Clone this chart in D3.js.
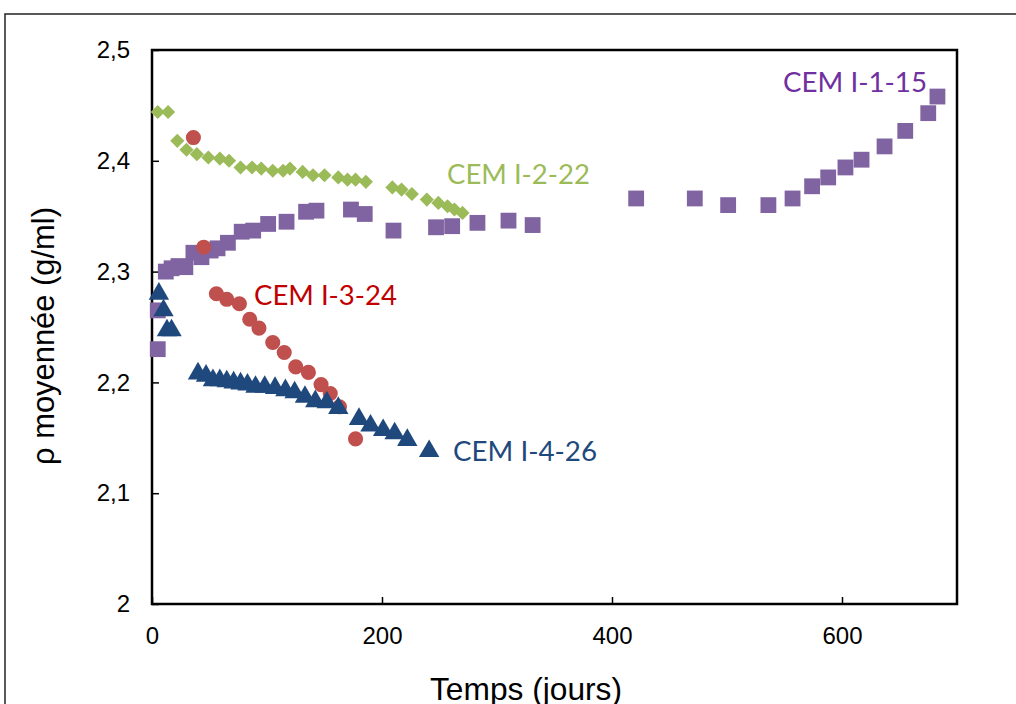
<!DOCTYPE html>
<html><head><meta charset="utf-8">
<script src="https://cdn.jsdelivr.net/npm/d3@7"></script>
<style>body{margin:0;background:#fff}svg{display:block}</style>
</head><body>
<svg id="c" width="1016" height="704"></svg>
<script>
// CEM I-1-15 (purple squares)
const s1Days = [5,5,12,17,23,29,36,43,51,57,66,78,88,101,117,134,143,173,185,210,247,261,283,310,331,421,472,501,536,557,574,588,603,617,637,655,675,683];
const s1Vals = [2.230,2.265,2.300,2.303,2.305,2.304,2.317,2.313,2.319,2.321,2.326,2.336,2.337,2.343,2.345,2.354,2.355,2.356,2.352,2.337,2.340,2.341,2.344,2.346,2.342,2.366,2.366,2.360,2.360,2.366,2.377,2.385,2.394,2.401,2.413,2.427,2.443,2.458];
// CEM I-2-22 (green diamonds)
const s2Days = [5,14,22,30,39,49,59,67,77,87,95,105,114,120,131,140,150,162,170,177,186,209,217,226,239,249,257,263,270];
const s2Vals = [2.444,2.444,2.418,2.410,2.406,2.403,2.402,2.400,2.394,2.394,2.393,2.391,2.391,2.393,2.390,2.387,2.387,2.385,2.383,2.383,2.381,2.376,2.374,2.370,2.365,2.362,2.359,2.356,2.353];
// CEM I-3-24 (red circles)
const s3Days = [36,45,56,65,76,85,93,105,115,125,136,147,155,163,177];
const s3Vals = [2.421,2.322,2.280,2.275,2.271,2.257,2.249,2.236,2.227,2.214,2.209,2.198,2.190,2.178,2.149];
// CEM I-4-26 (blue triangles)
const s4Days = [6,10,13,17,40,47,53,59,65,71,77,83,90,98,107,116,124,133,142,152,162,180,190,201,211,222,241];
const s4Vals = [2.279,2.264,2.246,2.246,2.207,2.205,2.201,2.201,2.200,2.199,2.198,2.197,2.195,2.195,2.194,2.192,2.190,2.186,2.182,2.181,2.176,2.166,2.160,2.156,2.153,2.147,2.137];

const xTicks = [0,200,400,600];
const yTicks = [2,2.1,2.2,2.3,2.4,2.5];
const seriesNames = ["CEM I-1-15","CEM I-2-22","CEM I-3-24","CEM I-4-26"];

const svg = d3.select("#c");
const L=152, T=50, R=957, B=604;
const x = d3.scaleLinear().domain([0,700]).range([L,R]);
const y = d3.scaleLinear().domain([2,2.5]).range([B,T]);
const fmt = d => String(d).replace(".", ",");
const AX = "Liberation Sans, Arial, sans-serif";

// outer frame
svg.append("rect").attr("x",5).attr("y",14).attr("width",1030).attr("height",720)
  .attr("fill","none").attr("stroke","#222").attr("stroke-width",1.5);

// axes (ticks inside)
const gx = svg.append("g").attr("transform",`translate(0,${B})`)
  .call(d3.axisBottom(x).tickValues(xTicks).tickSizeInner(-7).tickSizeOuter(0).tickPadding(23).tickFormat(d=>d));
const gy = svg.append("g").attr("transform",`translate(${L},0)`)
  .call(d3.axisLeft(y).tickValues(yTicks).tickSizeInner(-7).tickSizeOuter(0).tickPadding(22).tickFormat(fmt));
[gx,gy].forEach(g=>{
  g.select(".domain").remove();
  g.selectAll(".tick line").attr("stroke","#000").attr("stroke-width",1.5);
  g.selectAll(".tick text").attr("font-family",AX).attr("font-size",24).attr("fill","#000");
});
// plot box
svg.append("rect").attr("x",L).attr("y",T).attr("width",R-L).attr("height",B-T)
  .attr("fill","none").attr("stroke","#000").attr("stroke-width",2.5);

// axis titles
svg.append("text").attr("x",430).attr("y",700)
  .attr("font-family",AX).attr("font-size",32).attr("textLength",192).attr("lengthAdjust","spacingAndGlyphs")
  .text("Temps (jours)");
svg.append("text").attr("transform","translate(54,465) rotate(-90)")
  .attr("font-family",AX).attr("font-size",32).attr("textLength",258).attr("lengthAdjust","spacingAndGlyphs")
  .text("ρ moyennée (g/ml)");

const sym = (type,size)=>d3.symbol().type(type).size(size);
function draw(days, vals, type, size, color, extra){
  svg.append("g").selectAll("path").data(days.map((d,i)=>[d,vals[i]])).join("path")
    .attr("transform",d=>`translate(${x(d[0])},${y(d[1])})${extra||""}`)
    .attr("d",sym(type,size)).attr("fill",color);
}
draw(s1Days,s1Vals,d3.symbolSquare,250,"#8064A2");
draw(s2Days,s2Vals,d3.symbolSquare,100,"#9BBB59"," rotate(45)");
draw(s3Days,s3Vals,d3.symbolCircle,180,"#C0504D");
draw(s4Days,s4Vals,d3.symbolTriangle,180,"#1F497D"," translate(0,-1)");

// series labels
const labels = [
  {t:seriesNames[0], x:783, y:92, w:144, c:"#7030A0"},
  {t:seriesNames[1], x:447, y:184, w:143, c:"#9BBB59"},
  {t:seriesNames[2], x:254, y:305, w:143, c:"#C00000"},
  {t:seriesNames[3], x:453, y:461, w:144, c:"#1F497D"}
];
svg.append("g").selectAll("text").data(labels).join("text")
  .attr("x",d=>d.x).attr("y",d=>d.y).attr("fill",d=>d.c)
  .attr("textLength",d=>d.w).attr("lengthAdjust","spacingAndGlyphs")
  .attr("font-family","Lato, 'Open Sans', sans-serif").attr("font-size",27).text(d=>d.t);
</script>
</body></html>
